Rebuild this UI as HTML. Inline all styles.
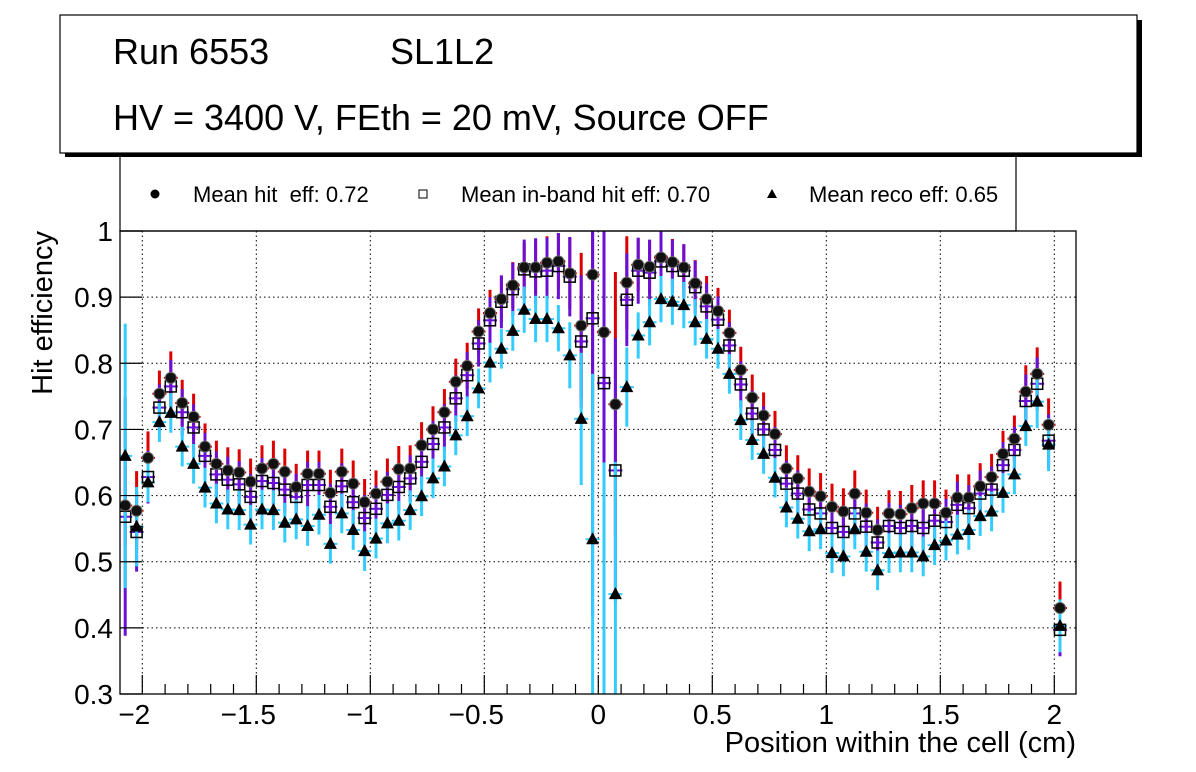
<!DOCTYPE html>
<html><head><meta charset="utf-8"><style>
html,body{margin:0;padding:0;background:#fff;}
body{width:1196px;height:772px;overflow:hidden;font-family:"Liberation Sans",sans-serif;}
svg{display:block;overflow:hidden;}
svg text{font-family:"Liberation Sans",sans-serif;}
</style></head><body>
<svg id="c" width="1196" height="772" xmlns="http://www.w3.org/2000/svg">
  <g>
    <rect x="120" y="140" width="896" height="91" fill="#fff" stroke="#000" stroke-width="1.2"/>
    <circle cx="155" cy="194" r="4.5" fill="#000"/>
    <text x="193" y="202" font-size="22" xml:space="preserve">Mean hit  eff: 0.72</text>
    <rect x="419" y="190" width="8" height="8" fill="#fff" stroke="#000" stroke-width="1"/>
    <text x="461" y="202" font-size="22">Mean in-band hit eff: 0.70</text>
    <polygon points="772,189 767,198 777,198" fill="#000"/>
    <text x="809" y="202" font-size="22">Mean reco eff: 0.65</text>
  </g>
  <g>
    <rect x="65" y="20" width="1077" height="137" fill="#000"/>
    <rect x="60" y="15" width="1077" height="138" fill="#fff" stroke="#000" stroke-width="1.2"/>
    <text x="113" y="64" font-size="36">Run 6553</text>
    <text x="390" y="64" font-size="36">SL1L2</text>
    <text x="113" y="130" font-size="36">HV = 3400 V, FEth = 20 mV, Source OFF</text>
  </g>
  <g id="grid"></g>
  <g id="marks" clip-path="url(#clip)"></g>
  <defs><clipPath id="clip"><rect x="120" y="231" width="956" height="463"/></clipPath></defs>
  <rect x="120" y="231" width="956" height="463" fill="none" stroke="#000" stroke-width="1.3"/>
  <g id="axes"></g>
  <text x="1076" y="752" font-size="29" text-anchor="end">Position within the cell (cm)</text>
  <text transform="translate(52,231) rotate(-90)" font-size="29" text-anchor="end">Hit efficiency</text>
</svg>
<script>
const binStart = -2.075;
const binWidth = 0.05;
const hitEff = [0.585,0.577,0.657,0.754,0.778,0.740,0.719,0.674,0.648,0.638,0.635,0.621,0.641,0.648,0.636,0.613,0.633,0.633,0.604,0.636,0.618,0.590,0.603,0.621,0.640,0.641,0.676,0.700,0.726,0.772,0.796,0.848,0.876,0.897,0.918,0.945,0.945,0.952,0.954,0.936,0.857,0.934,0.847,0.738,0.922,0.949,0.946,0.960,0.953,0.945,0.921,0.897,0.879,0.846,0.790,0.748,0.721,0.693,0.641,0.626,0.606,0.599,0.583,0.576,0.603,0.574,0.548,0.573,0.572,0.581,0.588,0.588,0.574,0.597,0.597,0.614,0.628,0.663,0.686,0.757,0.784,0.707,0.430];
const inbandEff = [0.568,0.545,0.628,0.733,0.765,0.726,0.703,0.660,0.632,0.624,0.617,0.598,0.622,0.619,0.609,0.598,0.616,0.616,0.583,0.614,0.590,0.566,0.580,0.601,0.613,0.626,0.651,0.678,0.703,0.747,0.782,0.830,0.865,0.893,0.912,0.942,0.939,0.940,0.947,0.931,0.833,0.868,0.770,0.638,0.896,0.940,0.937,0.954,0.947,0.940,0.915,0.886,0.866,0.827,0.768,0.724,0.700,0.669,0.618,0.603,0.579,0.573,0.551,0.545,0.573,0.553,0.529,0.554,0.551,0.554,0.551,0.562,0.560,0.586,0.581,0.603,0.609,0.646,0.669,0.743,0.769,0.683,0.397];
const recoEff = [0.660,0.553,0.620,0.711,0.725,0.674,0.648,0.612,0.588,0.579,0.578,0.556,0.579,0.578,0.559,0.564,0.554,0.571,0.527,0.573,0.548,0.516,0.535,0.558,0.562,0.578,0.599,0.626,0.644,0.691,0.720,0.762,0.801,0.822,0.849,0.881,0.867,0.867,0.853,0.812,0.716,0.534,0.250,0.451,0.764,0.842,0.862,0.897,0.893,0.888,0.862,0.837,0.822,0.784,0.714,0.684,0.663,0.627,0.582,0.565,0.546,0.549,0.513,0.508,0.549,0.515,0.487,0.513,0.514,0.514,0.508,0.525,0.532,0.541,0.548,0.569,0.576,0.604,0.632,0.705,0.742,0.677,0.403];
const hitErr = [0.06,0.06,0.04,0.035,0.04,0.035,0.035,0.035,0.035,0.035,0.035,0.035,0.035,0.035,0.035,0.035,0.035,0.035,0.035,0.035,0.035,0.035,0.035,0.035,0.035,0.035,0.035,0.035,0.035,0.035,0.035,0.035,0.035,0.035,0.035,0.037,0.04,0.04,0.042,0.054,0.11,0.3,0.35,0.2,0.07,0.04,0.04,0.04,0.035,0.035,0.035,0.035,0.035,0.035,0.035,0.035,0.035,0.035,0.035,0.035,0.035,0.035,0.035,0.035,0.035,0.035,0.035,0.035,0.035,0.035,0.035,0.035,0.035,0.035,0.035,0.035,0.035,0.035,0.035,0.04,0.04,0.04,0.04];
const inbandErr = [0.18,0.06,0.04,0.035,0.04,0.035,0.035,0.035,0.035,0.035,0.035,0.035,0.035,0.035,0.035,0.035,0.035,0.035,0.035,0.035,0.035,0.035,0.035,0.035,0.035,0.035,0.035,0.035,0.035,0.035,0.035,0.035,0.035,0.04,0.04,0.045,0.05,0.05,0.05,0.06,0.1,0.45,0.5,0.2,0.07,0.05,0.05,0.05,0.04,0.04,0.04,0.035,0.035,0.035,0.035,0.035,0.035,0.035,0.035,0.035,0.035,0.035,0.035,0.035,0.035,0.035,0.035,0.035,0.035,0.035,0.035,0.035,0.035,0.035,0.035,0.035,0.035,0.035,0.035,0.04,0.04,0.04,0.04];
const recoErr = [0.2,0.06,0.03,0.03,0.03,0.03,0.03,0.03,0.03,0.03,0.03,0.03,0.03,0.03,0.03,0.03,0.03,0.03,0.03,0.03,0.03,0.03,0.03,0.03,0.03,0.03,0.03,0.03,0.03,0.03,0.03,0.03,0.03,0.03,0.03,0.035,0.035,0.035,0.035,0.05,0.1,0.25,0.4,0.2,0.06,0.035,0.035,0.035,0.035,0.035,0.035,0.03,0.03,0.03,0.03,0.03,0.03,0.03,0.03,0.03,0.03,0.03,0.03,0.03,0.03,0.03,0.03,0.03,0.03,0.03,0.03,0.03,0.03,0.03,0.03,0.03,0.03,0.03,0.03,0.03,0.04,0.04,0.04];
const yTicks = [0.3,0.4,0.5,0.6,0.7,0.8,0.9,1];
const yTickLabels = ["0.3","0.4","0.5","0.6","0.7","0.8","0.9","1"];
const xTicks = [-2,-1.5,-1,-0.5,0,0.5,1,1.5,2];
const xTickLabels = ["\u22122","\u22121.5","\u22121","\u22120.5","0","0.5","1","1.5","2"];

const NS = "http://www.w3.org/2000/svg";
function X(v){ return 598.3 + v*228; }
function Y(v){ return 694 - (v-0.3)*(463/0.7); }
function mk(tag, attrs, parent){
  const e = document.createElementNS(NS, tag);
  for (const k in attrs) e.setAttribute(k, attrs[k]);
  parent.appendChild(e); return e;
}
const grid = document.getElementById('grid');
const axes = document.getElementById('axes');
const marks = document.getElementById('marks');

yTicks.forEach((t,i)=>{
  const y = Y(t);
  if (t>0.3 && t<1) {
    const g = mk('line',{x1:120,x2:1076,y1:y,y2:y,stroke:'#000','stroke-width':1,'stroke-dasharray':'1.5,3'},grid);
    
    
  }
  const tk = mk('line',{x1:120,x2:142,y1:y,y2:y,stroke:'#000','stroke-width':1.2},axes);
  
  
  const lb = mk('text',{x:113,y:y+10,'font-size':28,'text-anchor':'end'},axes);
  lb.textContent = yTickLabels[i];
  
  
});
xTicks.forEach((t,i)=>{
  const x = X(t);
  const g = mk('line',{x1:x,x2:x,y1:231,y2:694,stroke:'#000','stroke-width':1,'stroke-dasharray':'1.5,3'},grid);
  
  
  const tk = mk('line',{x1:x,x2:x,y1:694,y2:675,stroke:'#000','stroke-width':1.2},axes);
  
  
  const lb = mk('text',{x:x-(t<0?8:0),y:724,'font-size':28,'text-anchor':'middle'},axes);
  lb.textContent = xTickLabels[i];
  
  
});
for (let v=-2.1; v<2.11; v+=0.1) {
  const r = Math.round(v*10)/10;
  if (Math.abs(r*2-Math.round(r*2))<1e-6) continue;
  const x = X(r); if (x<121||x>1075) continue;
  const tk = mk('line',{x1:x,x2:x,y1:694,y2:684,stroke:'#000','stroke-width':1.2},axes);
  
  
}

function errBars(vals, errs, color, name){
  vals.forEach((v,i)=>{
    const x = X(binStart + i*binWidth);
    const e = errs[i];
    const l = mk('line',{x1:x,x2:x,y1:Y(v+e),y2:Y(v-e),stroke:color,'stroke-width':3},marks);
    
    
    const h = mk('line',{x1:x-7,x2:x+7,y1:Y(v),y2:Y(v),stroke:color,'stroke-width':2},marks);
    
    
  });
}
errBars(hitEff, hitErr, '#dd0000', 'hit');
errBars(inbandEff, inbandErr, '#6a0fd6', 'inband');
errBars(recoEff, recoErr, '#33ccff', 'reco');

recoEff.forEach((v,i)=>{
  const x = X(binStart + i*binWidth), y = Y(v);
  const p = mk('polygon',{points:`${x},${y-7} ${x-6.5},${y+5} ${x+6.5},${y+5}`,fill:'#000'},marks);
  
  
});
inbandEff.forEach((v,i)=>{
  const x = X(binStart + i*binWidth), y = Y(v);
  const r = mk('rect',{x:x-5.5,y:y-5.5,width:11,height:11,fill:'none',stroke:'#000','stroke-width':1.5},marks);
  
  
});
hitEff.forEach((v,i)=>{
  const x = X(binStart + i*binWidth), y = Y(v);
  const c = mk('circle',{cx:x,cy:y,r:5.5,fill:'#111',stroke:'#666','stroke-width':1},marks);
  
  
});
</script>
</body></html>
